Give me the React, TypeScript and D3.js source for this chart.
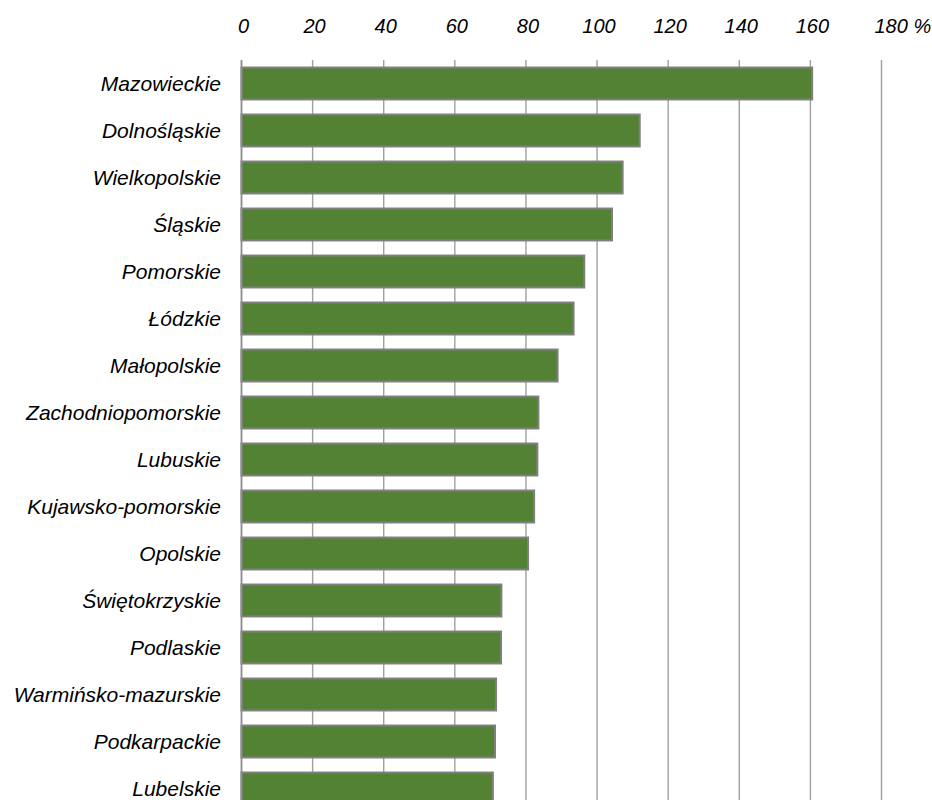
import { useEffect, useRef } from 'react';
import * as d3 from 'd3';

// regions sorted by value (%)
const regions = [
  'Mazowieckie', 'Dolnośląskie', 'Wielkopolskie', 'Śląskie', 'Pomorskie',
  'Łódzkie', 'Małopolskie', 'Zachodniopomorskie', 'Lubuskie', 'Kujawsko-pomorskie',
  'Opolskie', 'Świętokrzyskie', 'Podlaskie', 'Warmińsko-mazurskie', 'Podkarpackie', 'Lubelskie',
];
const values = [160.5, 112.0, 107.2, 104.2, 96.4, 93.4, 88.9, 83.5, 83.2, 82.3, 80.6, 73.1, 73.0, 71.6, 71.3, 70.7];
const ticks = [0, 20, 40, 60, 80, 100, 120, 140, 160, 180];

export default function App() {
  const svgRef = useRef<SVGSVGElement>(null);

  useEffect(() => {
    const svg = d3.select(svgRef.current);
    svg.selectAll('*').remove();

    const font = '"Liberation Sans", Arial, sans-serif';
    const x = d3.scaleLinear().domain([0, 180]).range([241.5, 881.5]);
    const y = d3.scaleBand<string>()
      .domain(regions)
      .range([60, 812])
      .paddingInner(0.32)
      .paddingOuter(0.16);

    // vertical gridlines
    svg.append('g')
      .selectAll('line')
      .data(ticks)
      .enter()
      .append('line')
      .attr('x1', d => x(d))
      .attr('x2', d => x(d))
      .attr('y1', 60)
      .attr('y2', 812)
      .attr('stroke', '#a0a0a0')
      .attr('stroke-width', 1.4);

    // tick labels on top
    svg.append('g')
      .selectAll('text')
      .data(ticks)
      .enter()
      .append('text')
      .attr('x', (d, i) => i === ticks.length - 1 ? x(d) - 7 : x(d) + 2)
      .attr('y', 33)
      .attr('text-anchor', (d, i) => i === ticks.length - 1 ? 'start' : 'middle')
      .style('font-family', font)
      .style('font-style', 'italic')
      .style('font-size', '20px')
      .style('fill', '#000')
      .text((d, i) => i === ticks.length - 1 ? `${d} %` : `${d}`);

    // bars
    svg.append('g')
      .selectAll('rect')
      .data(values)
      .enter()
      .append('rect')
      .attr('x', x(0))
      .attr('y', (d, i) => y(regions[i])!)
      .attr('width', d => x(d) - x(0))
      .attr('height', y.bandwidth())
      .attr('fill', '#548235')
      .attr('stroke', '#808080')
      .attr('stroke-width', 2);

    // category axis line
    svg.append('line')
      .attr('x1', x(0))
      .attr('x2', x(0))
      .attr('y1', 60)
      .attr('y2', 812)
      .attr('stroke', '#8c8c8c')
      .attr('stroke-width', 1.6);

    // category labels
    svg.append('g')
      .selectAll('text')
      .data(regions)
      .enter()
      .append('text')
      .attr('x', 221)
      .attr('y', d => y(d)! + y.bandwidth() / 2 + 7)
      .attr('text-anchor', 'end')
      .style('font-family', font)
      .style('font-style', 'italic')
      .style('font-size', '21px')
      .style('fill', '#000')
      .text(d => d);
  }, []);

  return (
    <svg
      ref={svgRef}
      width={932}
      height={820}
      style={{ position: 'absolute', left: 0, top: 0, background: '#fff' }}
    />
  );
}
